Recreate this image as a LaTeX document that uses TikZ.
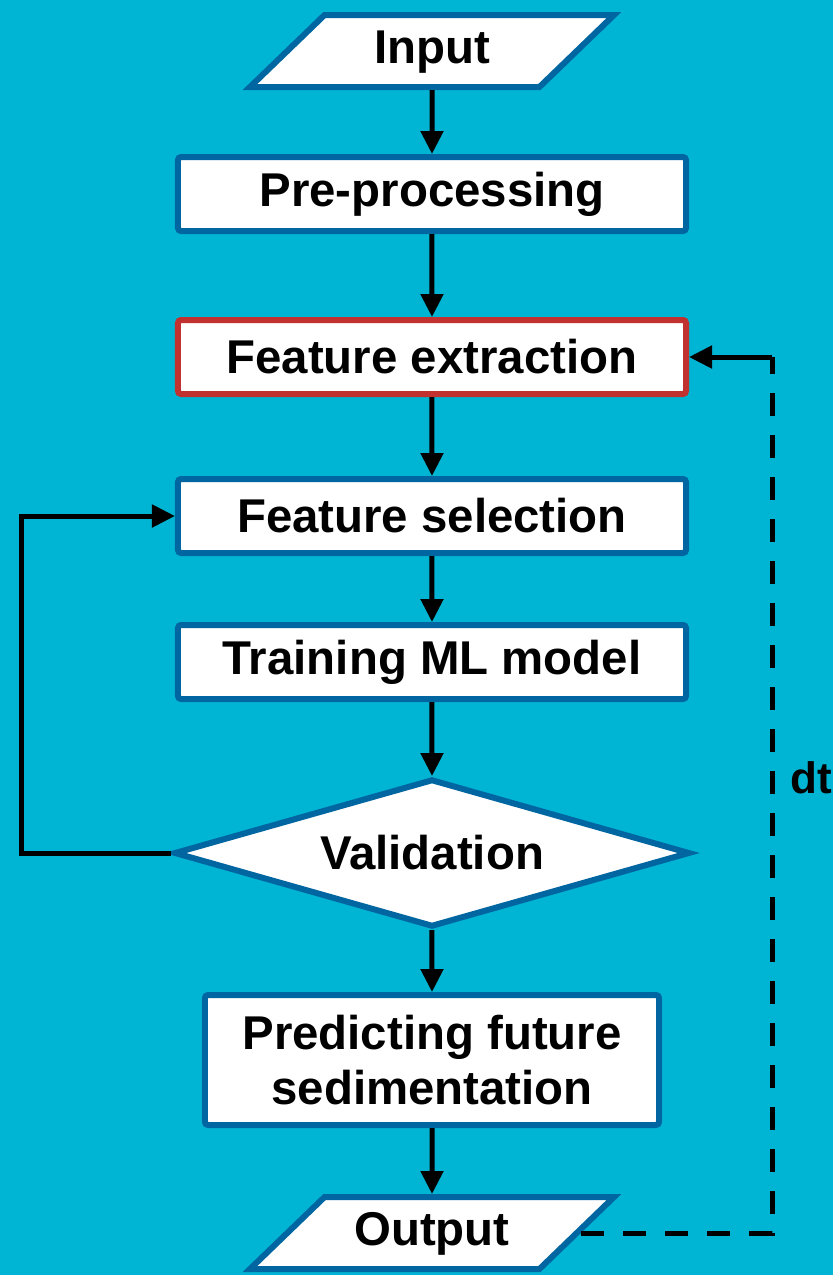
\documentclass[tikz,border=0pt]{standalone}
\usepackage{fontspec}
\setmainfont{Liberation Sans}
\usetikzlibrary{shapes.geometric,arrows.meta}
\definecolor{skybg}{RGB}{0,181,212}
\definecolor{boxblue}{RGB}{0,102,161}
\definecolor{boxred}{RGB}{192,49,47}
\tikzset{
  procbox/.style={rectangle,draw=boxblue,line width=3pt,fill=white,
    rounded corners=1.5pt,minimum width=254pt,minimum height=37pt,inner sep=0pt},
  iobox/.style={trapezium,trapezium left angle=44,trapezium right angle=136,
    trapezium stretches body,draw=boxblue,line width=3pt,fill=white,
    minimum width=182pt,text height=17pt,text depth=5pt,inner xsep=0pt,inner ysep=7pt},
  decbox/.style={diamond,aspect=3.4,draw=boxblue,line width=3pt,fill=white,
    minimum width=258pt,minimum height=74pt,inner sep=0pt},
  fbline/.style={draw,line width=2.5pt,-{Triangle[length=11.5pt,width=11pt]}}
}
\begin{document}
\begin{tikzpicture}[
  grow=down,
  level 1/.style={level distance=71.5pt},
  level 2/.style={level distance=81.5pt},
  level 3/.style={level distance=79.5pt},
  level 4/.style={level distance=73pt},
  level 5/.style={level distance=95.5pt},
  level 6/.style={level distance=103.5pt},
  level 7/.style={level distance=86.5pt},
  edge from parent/.style={draw,line width=2.5pt,-{Triangle[length=11.5pt,width=11pt]}},
  every node/.style={font=\fontsize{23.7}{27.5}\selectfont\bfseries}
]
\useasboundingbox (-216pt,25.5pt) rectangle (200.5pt,-612pt);
\fill[skybg] (-216pt,25.5pt) rectangle (200.5pt,-612pt);
\node[iobox] (in) {Input}
  child { node[procbox] (pre) {Pre-processing}
    child { node[procbox,draw=boxred] (fe) {Feature extraction}
      child { node[procbox] (fs) {Feature selection}
        child { node[procbox] (tr) {Training ML model}
          child { node[decbox] (val) {Validation}
            child { node[procbox,minimum width=227pt,minimum height=65pt,align=center] (pred) {Predicting future\\sedimentation}
              child { node[iobox] (out) {Output} }
            }
          }
        }
      }
    }
  };
% feedback paths
\coordinate (lrail) at (-205pt,0pt);
\coordinate (rrail) at (170pt,0pt);
\coordinate (dtcorner) at (fe.east -| rrail);
\draw[fbline] (val.west) -- (val.west -| lrail) -- (fs.west -| lrail) -- (fs.west);
\draw[line width=2.5pt,dash pattern=on 11.5pt off 9.5pt] (out.east) -- (out.east -| rrail)
  -- node[right=8pt,inner sep=0pt,pos=0.52,font=\fontsize{22}{26}\selectfont\bfseries] {dt} (dtcorner);
\draw[fbline] (dtcorner) -- (fe.east);
\end{tikzpicture}
\end{document}
